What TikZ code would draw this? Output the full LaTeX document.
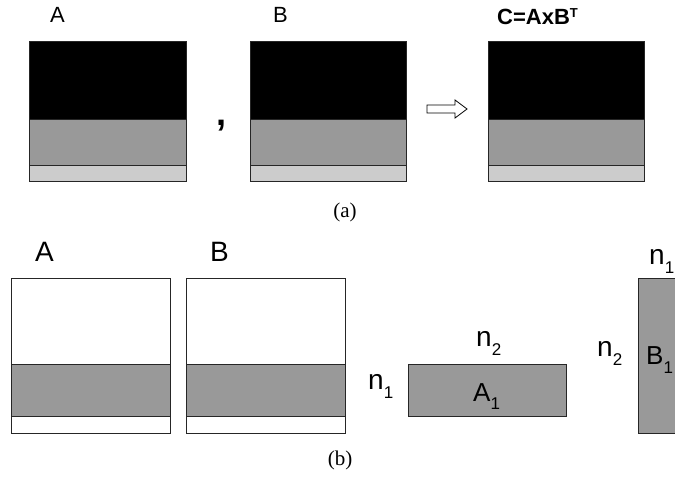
\documentclass[tikz,border=0pt]{standalone}
\usepackage{fontspec}
\setmainfont{Liberation Sans}
\newfontfamily\capfont{Liberation Serif}
\tikzset{
  mat/.style={draw=black!85, line width=0.8pt},
  lblA/.style={anchor=base west, inner sep=0pt, font=\fontsize{22}{22}\selectfont},
  lblB/.style={anchor=base west, inner sep=0pt, font=\fontsize{28}{28}\selectfont},
  nlbl/.style={anchor=base west, inner sep=0pt, font=\fontsize{28}{28}\selectfont},
  mlbl/.style={anchor=base west, inner sep=0pt, font=\fontsize{26}{26}\selectfont},
  caption/.style={inner sep=0pt, font=\capfont\fontsize{21}{21}\selectfont},
}
\newcommand\sbs[1]{\raisebox{-9pt}{\fontsize{17}{17}\selectfont #1}}
\begin{document}
\begin{tikzpicture}[x=1pt,y=-1pt]
\useasboundingbox (0,0) rectangle (675,478);
\clip (0,0) rectangle (675,478);
% ---------- (a) ----------
\foreach \xa/\xb in {29/186, 250/406, 488/644}{
  \filldraw[mat, fill=black] (\xa,41) rectangle (\xb,119);
  \filldraw[mat, fill=black!40] (\xa,119) rectangle (\xb,165);
  \filldraw[mat, fill=black!20] (\xa,165) rectangle (\xb,181);
}
\node[lblA] (la) at (50,23) {A};
\node[lblA] (lb) at (273,23) {B};
\node[lblA, font=\fontsize{22}{22}\selectfont\bfseries] (lc) at (497,25) {C=AxB\textsuperscript{\fontsize{13}{13}\selectfont T}};
\node[anchor=base, inner sep=0pt, font=\fontsize{36}{36}\selectfont\bfseries] (comma) at (221,126) {,};
\draw[line width=0.8pt, fill=white] (427,105) -- (455,105) -- (455,100) -- (467,109) -- (455,118) -- (455,113) -- (427,113) -- cycle;
\node[caption] (capa) at (345,212) {(a)};
% ---------- (b) ----------
\foreach \xa/\xb in {11/170, 186/345}{
  \filldraw[mat, fill=white] (\xa,278) rectangle (\xb,364);
  \filldraw[mat, fill=black!40] (\xa,364) rectangle (\xb,416);
  \filldraw[mat, fill=white] (\xa,416) rectangle (\xb,433);
}
\node[lblB] (lA) at (35,262) {A};
\node[lblB] (lB) at (210,262) {B};
\filldraw[mat, fill=black!40] (408,364) rectangle (566,416);
\filldraw[mat, fill=black!40] (638,278) rectangle (700,433);
\node[mlbl] (a1) at (473,401) {A\sbs{1}};
\node[nlbl] (n2a) at (476,347) {n\sbs{2}};
\node[nlbl] (n1a) at (368,390) {n\sbs{1}};
\node[mlbl] (b1) at (646,365) {B\sbs{1}};
\node[nlbl] (n2b) at (597,357) {n\sbs{2}};
\node[nlbl] (n1b) at (649,265) {n\sbs{1}};
\node[caption] (capb) at (340,460) {(b)};
\end{tikzpicture}
\end{document}
